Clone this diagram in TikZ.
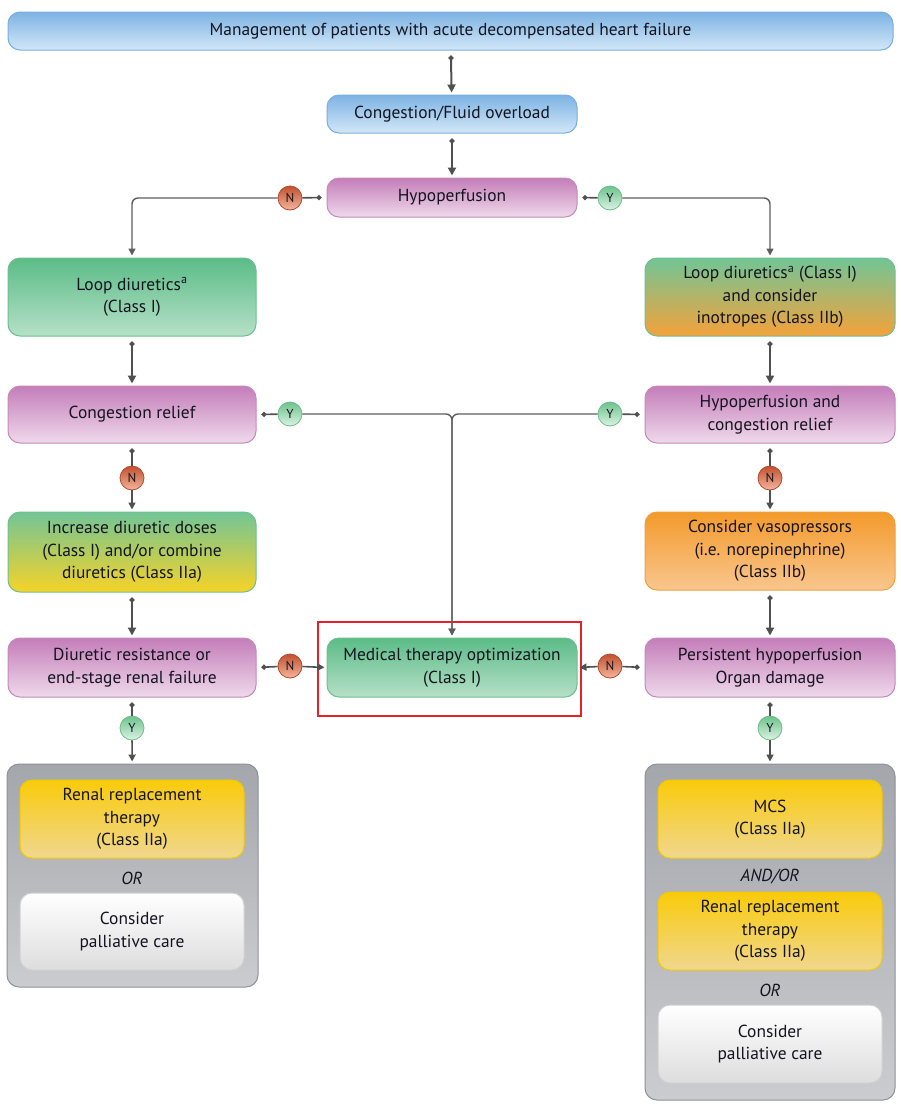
\documentclass[tikz,border=0pt]{standalone}
\usepackage{fontspec}
\setmainfont{PT Sans}
\usetikzlibrary{arrows.meta,calc}
\definecolor{txt}{HTML}{14141F}
\definecolor{linkc}{HTML}{505050}
\definecolor{thinc}{HTML}{5E5E5E}
\definecolor{blueT}{HTML}{7DB3E3}\definecolor{blueB}{HTML}{D3E7F8}\definecolor{blueD}{HTML}{7AAEE0}
\definecolor{purT}{HTML}{C47DB9}\definecolor{purB}{HTML}{EFD9EB}\definecolor{purD}{HTML}{C48AB9}
\definecolor{grnT}{HTML}{5BBC87}\definecolor{grnB}{HTML}{B6E0C8}\definecolor{grnD}{HTML}{6CC08F}
\definecolor{ylwT}{HTML}{F9CB0A}\definecolor{ylwB}{HTML}{F0D78F}\definecolor{ylwD}{HTML}{F5C900}
\definecolor{orgT}{HTML}{F39A2B}\definecolor{orgB}{HTML}{F9C68E}\definecolor{orgD}{HTML}{F0A040}
\definecolor{gnyB}{HTML}{F6D327}\definecolor{gnoB}{HTML}{F4A23A}\definecolor{gnT}{HTML}{72C596}
\definecolor{whtB}{HTML}{DDDDDD}\definecolor{whtD}{HTML}{D0D0D0}
\definecolor{gryT}{HTML}{A3A6AB}\definecolor{gryB}{HTML}{CBCCCF}\definecolor{gryD}{HTML}{8E9196}
\definecolor{nT}{HTML}{C2502F}\definecolor{nB}{HTML}{F3B69C}\definecolor{nD}{HTML}{B24A2E}
\definecolor{yT}{HTML}{6CC28C}\definecolor{yB}{HTML}{DDF2E4}\definecolor{yD}{HTML}{6CBF8A}
\definecolor{redbox}{HTML}{E8202A}
\begin{document}
\begin{tikzpicture}[x=1pt,y=-1pt,
  box/.style={rounded corners=12pt, line width=1pt, align=center, text=txt,
    font=\fontsize{17.4}{22.5}\selectfont, inner sep=0pt},
  bluebox/.style={box, draw=blueD, top color=blueT, bottom color=blueB},
  purbox/.style={box, draw=purD, top color=purT, bottom color=purB},
  grnbox/.style={box, draw=grnD, top color=grnT, bottom color=grnB},
  gnybox/.style={box, draw=grnD, top color=gnT, bottom color=gnyB},
  gnobox/.style={box, draw=grnD, top color=gnT, bottom color=gnoB},
  orgbox/.style={box, draw=orgD, top color=orgT, bottom color=orgB},
  ylwbox/.style={box, draw=ylwD, top color=ylwT, bottom color=ylwB},
  whtbox/.style={box, draw=whtD, top color=white, bottom color=whtB},
  grybox/.style={rounded corners=12pt, line width=1pt, draw=gryD, top color=gryT, bottom color=gryB},
  sz/.style 2 args={minimum width=#1pt, minimum height=#2pt},
  ncirc/.style={circle, minimum size=24pt, inner sep=0pt, draw=nD, line width=0.8pt,
    top color=nT, bottom color=nB, text=txt, font=\fontsize{13}{13}\selectfont},
  ycirc/.style={circle, minimum size=24pt, inner sep=0pt, draw=yD, line width=0.8pt,
    top color=yT, bottom color=yB, text=txt, font=\fontsize{13}{13}\selectfont},
  lbl/.style={text=txt, font=\fontsize{17.4}{22.5}\selectfont\itshape},
  vlink/.style={draw=linkc, line width=2pt, {Circle[length=5pt]}-{Triangle[length=8pt,width=8pt]},
    shorten <=5pt, shorten >=2pt},
  dotlink/.style={draw=linkc, line width=1.6pt, {Circle[length=5pt]}-, shorten <=5pt},
  tiplink/.style={draw=linkc, line width=1.6pt, -{Triangle[length=7pt,width=7pt]}, shorten >=2pt},
  thin/.style={draw=thinc, line width=1.4pt, rounded corners=6pt},
  thintip/.style={thin, -{Triangle[length=7pt,width=7pt]}, shorten >=2pt}
]
\useasboundingbox (0,0) rectangle (900,1106);

% boxes
\node[bluebox, sz={885}{38}] (top) at (450.5,31) {Management of patients with acute decompensated heart failure};
\node[bluebox, sz={250}{38}] (cong) at (452,114) {Congestion/Fluid overload};
\node[purbox, sz={250}{39}] (hypo) at (452,197.5) {Hypoperfusion};
\node[grnbox, sz={248}{78}] (loopL) at (132,297) {Loop diuretics\textsuperscript{a}\\(Class I)};
\node[gnobox, sz={250}{78}] (loopR) at (770,297) {Loop diuretics\textsuperscript{a} (Class I)\\and consider\\inotropes (Class IIb)};
\node[purbox, sz={248}{57}] (crL) at (132,414.5) {Congestion relief};
\node[purbox, sz={250}{57}] (crR) at (770,414.5) {Hypoperfusion and\\congestion relief};
\node[gnybox, sz={248}{80}] (incr) at (132,552) {Increase diuretic doses\\(Class I) and/or combine\\diuretics (Class IIa)};
\node[orgbox, sz={250}{78}] (vaso) at (770,551) {Consider vasopressors\\(i.e. norepinephrine)\\(Class IIb)};
\node[purbox, sz={248}{59}] (drL) at (132,667.5) {Diuretic resistance or\\end-stage renal failure};
\node[grnbox, sz={250}{59}] (med) at (452,667.5) {Medical therapy optimization\\(Class I)};
\node[purbox, sz={250}{59}] (phR) at (770,667.5) {Persistent hypoperfusion\\Organ damage};
\node[draw=redbox, line width=1.6pt, minimum width=263pt, minimum height=94pt, inner sep=0pt] (redframe) at (449.5,669) {};

% containers
\node[grybox, sz={251}{223}] (contL) at (132.5,875.5) {};
\node[ylwbox, sz={224}{78}] (rrtL) at (132,819) {Renal replacement\\therapy\\(Class IIa)};
\node[lbl] (orL) at (132,878) {OR};
\node[whtbox, sz={224}{77}] (palL) at (132,931.5) {Consider\\palliative care};

\node[grybox, sz={250}{336}] (contR) at (770,932) {};
\node[ylwbox, sz={224}{78}] (mcs) at (770,819) {MCS\\(Class IIa)};
\node[lbl] (andor) at (770,877) {AND/OR};
\node[ylwbox, sz={224}{78}] (rrtR) at (770,931) {Renal replacement\\therapy\\(Class IIa)};
\node[lbl] (orR) at (770,990) {OR};
\node[whtbox, sz={224}{78}] (palR) at (770,1044) {Consider\\palliative care};

% decision circles
\node[ncirc] (N1) at (290,198) {N};
\node[ycirc] (Y1) at (610,198) {Y};
\node[ycirc] (Y2) at (290,414) {Y};
\node[ycirc] (Y3) at (610,414) {Y};
\node[ncirc] (N2) at (132,478) {N};
\node[ncirc] (N3) at (770,478) {N};
\node[ncirc] (N4) at (290,666) {N};
\node[ncirc] (N5) at (610,666) {N};
\node[ycirc] (Y4) at (132,728) {Y};
\node[ycirc] (Y5) at (770,728) {Y};

% vertical links
\draw[vlink] (top) -- (cong);
\draw[vlink] (cong) -- (hypo);
\draw[vlink] (loopL) -- (crL);
\draw[vlink] (loopR) -- (crR);
\draw[vlink] (incr) -- (drL);
\draw[vlink] (vaso) -- (phR);

% hypoperfusion branches
\draw[dotlink] (hypo.west) -- (N1);
\draw[thintip] (N1) -| (loopL.north);
\draw[dotlink] (hypo.east) -- (Y1);
\draw[thintip] (Y1) -| (loopR.north);

% congestion relief Y -> medical therapy
\draw[dotlink] (crL.east) -- (Y2);
\draw[dotlink] (crR.west) -- (Y3);
\draw[thintip] (Y2) -| (med.north);
\draw[thintip] (Y3) -| (med.north);

% N branches downward
\draw[dotlink] (crL) -- (N2);
\draw[tiplink] (N2) -- (incr);
\draw[dotlink] (crR) -- (N3);
\draw[tiplink] (N3) -- (vaso);

% N to medical therapy
\draw[dotlink] (drL.east) -- (N4);
\draw[tiplink] (N4) -- (med.west);
\draw[dotlink] (phR.west) -- (N5);
\draw[tiplink] (N5) -- (med.east);

% Y to containers
\draw[dotlink] (drL) -- (Y4);
\draw[tiplink] (Y4) -- (contL);
\draw[dotlink] (phR) -- (Y5);
\draw[tiplink] (Y5) -- (contR);
\end{tikzpicture}
\end{document}
